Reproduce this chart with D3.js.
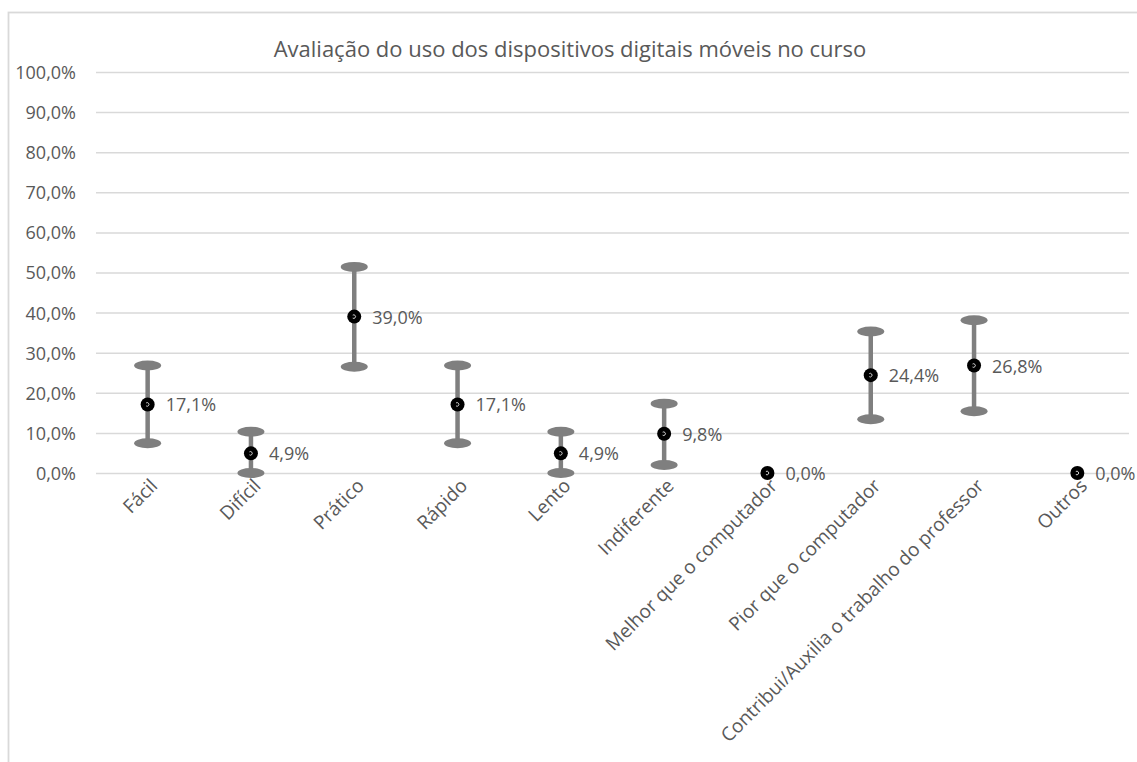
<!DOCTYPE html>
<html>
<head>
<meta charset="utf-8">
<script src="https://cdn.jsdelivr.net/npm/d3@7"></script>
<style>
  html, body { margin: 0; padding: 0; background: #ffffff; }
  svg { display: block; }
  text { font-family: "Open Sans", "Noto Sans", sans-serif; fill: #595959; }
</style>
</head>
<body>
<svg id="chart" width="1137" height="762"></svg>
<script>
const title = "Avaliação do uso dos dispositivos digitais móveis no curso";
const categories = ["Fácil", "Difícil", "Prático", "Rápido", "Lento", "Indiferente",
  "Melhor que o computador", "Pior que o computador",
  "Contribui/Auxilia o trabalho do professor", "Outros"];
const values = [17.1, 4.9, 39.0, 17.1, 4.9, 9.8, 0.0, 24.4, 26.8, 0.0];
const lowerBounds = [7.4, 0.0, 26.5, 7.4, 0.0, 2.0, null, 13.4, 15.4, null];
const upperBounds = [26.8, 10.3, 51.4, 26.8, 10.3, 17.3, null, 35.3, 38.1, null];
const yTicks = [0, 10, 20, 30, 40, 50, 60, 70, 80, 90, 100];

const svg = d3.select("#chart");
const W = 1137, H = 762;
const plot = { left: 96, right: 1129, top: 72, bottom: 473 };

// chart frame (left + top edges visible)
svg.append("rect").attr("x", 8.5).attr("y", 12.5).attr("width", W + 20).attr("height", H + 20)
  .attr("fill", "none").attr("stroke", "#d9d9d9").attr("stroke-width", 1.8);

const x = d3.scaleBand().domain(categories).range([plot.left, plot.right]);
const y = d3.scaleLinear().domain([0, 100]).range([plot.bottom, plot.top]);
const fmt = v => d3.format(".1f")(v).replace(".", ",") + "%";

// title
svg.append("text").attr("x", 570).attr("y", 57).attr("text-anchor", "middle")
  .style("font-size", "22px").text(title);

// gridlines + y labels
const yAxis = d3.axisLeft(y).tickValues(yTicks).tickFormat(fmt)
  .tickSize(-(plot.right - plot.left)).tickPadding(20);
const gy = svg.append("g").attr("transform", `translate(${plot.left},0)`).call(yAxis);
gy.select(".domain").remove();
gy.selectAll(".tick line").attr("stroke", "#d9d9d9").attr("stroke-width", 1.5);
gy.selectAll(".tick text").style("font-size", "18px").attr("fill", "#595959")
  .style("font-family", "'Open Sans', sans-serif").attr("dy", "0.36em");

// x labels
const xAxis = d3.axisBottom(x).tickSize(0).tickPadding(0);
const gx = svg.append("g").attr("transform", `translate(0,${plot.bottom})`).call(xAxis);
gx.select(".domain").remove();
gx.selectAll(".tick text")
  .style("font-size", "19px").attr("fill", "#595959")
  .style("font-family", "'Open Sans', sans-serif")
  .attr("text-anchor", "end")
  .attr("dy", null).attr("y", null)
  .attr("transform", "translate(11,14) rotate(-45)");

const cx = c => x(c) + x.bandwidth() / 2;

const data = categories.map((c, i) => ({ c, v: values[i], lo: lowerBounds[i], hi: upperBounds[i] }));
const withErr = data.filter(d => d.lo !== null);

// error bars
svg.append("g").selectAll("line").data(withErr).join("line")
  .attr("x1", d => cx(d.c)).attr("x2", d => cx(d.c))
  .attr("y1", d => y(d.lo)).attr("y2", d => y(d.hi))
  .attr("stroke", "#7f7f7f").attr("stroke-width", 4.5);
const caps = svg.append("g");
caps.selectAll("ellipse.hi").data(withErr).join("ellipse").attr("class", "hi")
  .attr("cx", d => cx(d.c)).attr("cy", d => y(d.hi)).attr("rx", 13.5).attr("ry", 5)
  .attr("fill", "#7f7f7f");
caps.selectAll("ellipse.lo").data(withErr).join("ellipse").attr("class", "lo")
  .attr("cx", d => cx(d.c)).attr("cy", d => y(d.lo)).attr("rx", 13.5).attr("ry", 5)
  .attr("fill", "#7f7f7f");

// markers
const m = svg.append("g").selectAll("g").data(data).join("g")
  .attr("transform", d => `translate(${cx(d.c)},${y(d.v)})`);
m.append("circle").attr("r", 7).attr("fill", "#000");
m.append("path").attr("d", "M-1.5,-1.5 A1.8,1.8 0 1 1 -1.5,1.5")
  .attr("fill", "none").attr("stroke", "#fff").attr("stroke-width", 0.8);

// value labels
svg.append("g").selectAll("text").data(data).join("text")
  .attr("x", d => cx(d.c) + 18).attr("y", d => y(d.v) + 7)
  .style("font-size", "18px").text(d => fmt(d.v));
</script>
</body>
</html>
